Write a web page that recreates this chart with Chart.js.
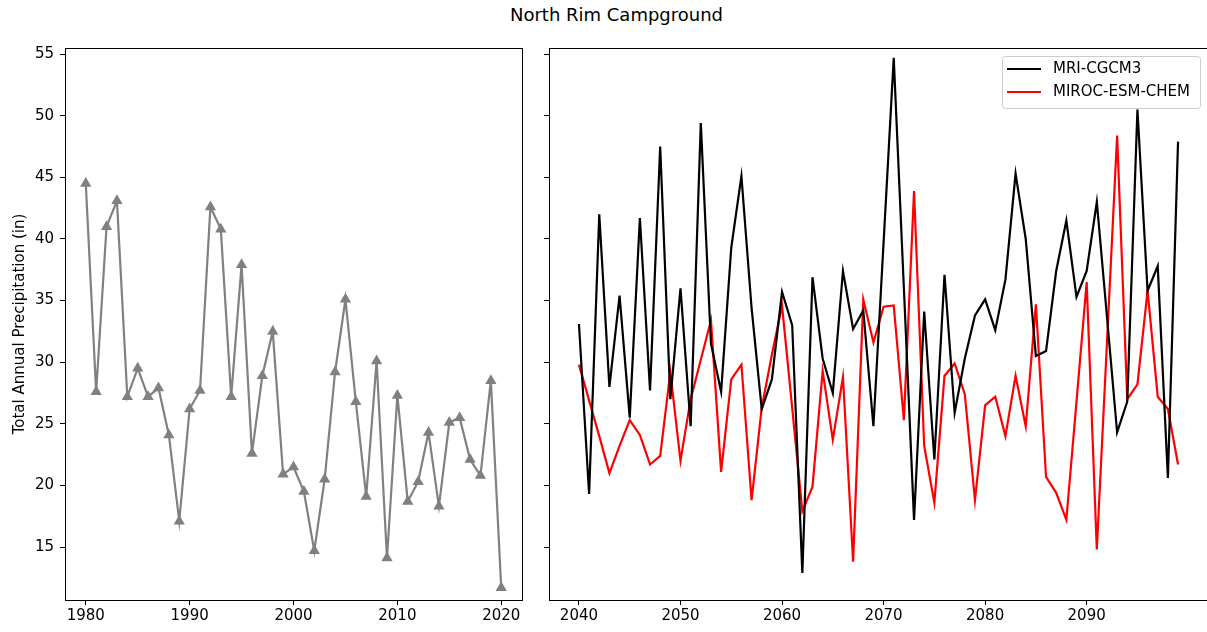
<!DOCTYPE html>
<html>
<head>
<meta charset="utf-8">
<script src="https://cdn.jsdelivr.net/npm/chart.js@4"></script>
<style>
  body { margin: 0; overflow: hidden; background: #fff; }
  #wrap { position: relative; width: 1207px; height: 632px; overflow: hidden; }
  #title { position: absolute; top: 4px; left: 13px; width: 1207px; text-align: center;
           font: 18px "DejaVu Sans", sans-serif; color: #000; }
  canvas { position: absolute; top: 0; }
</style>
</head>
<body>
<div id="wrap">
  <div id="title">North Rim Campground</div>
  <canvas id="left" width="540" height="632" style="left:0"></canvas>
  <canvas id="right" width="680" height="632" style="left:535px"></canvas>
</div>
<script>
// observed, 1980-2020
const pastYears = [1980,1981,1982,1983,1984,1985,1986,1987,1988,1989,1990,1991,1992,1993,1994,1995,1996,1997,1998,1999,
  2000,2001,2002,2003,2004,2005,2006,2007,2008,2009,2010,2011,2012,2013,2014,2015,2016,2017,2018,2019,2020];
const pastPrecip = [44.5,27.6,41.0,43.1,27.2,29.5,27.2,27.9,24.1,17.1,26.2,27.7,42.6,40.8,27.2,37.9,22.6,28.9,32.5,20.9,
  21.5,19.5,14.7,20.5,29.2,35.1,26.8,19.1,30.1,14.1,27.3,18.7,20.3,24.3,18.3,25.1,25.5,22.1,20.8,28.5,11.7];

// projections, 2040-2099
const futureYears = [2040,2041,2042,2043,2044,2045,2046,2047,2048,2049,2050,2051,2052,2053,2054,2055,2056,2057,2058,2059,
  2060,2061,2062,2063,2064,2065,2066,2067,2068,2069,2070,2071,2072,2073,2074,2075,2076,2077,2078,2079,
  2080,2081,2082,2083,2084,2085,2086,2087,2088,2089,2090,2091,2092,2093,2094,2095,2096,2097,2098,2099];
const mriPrecip = [33.1,19.3,42.0,28.0,35.4,25.5,41.7,27.7,47.5,27.0,36.0,24.8,49.4,31.5,27.6,39.3,45.1,34.4,26.2,28.6,
  35.7,33.0,12.9,36.9,30.3,27.5,37.4,32.7,34.2,24.8,39.7,54.7,36.0,17.2,34.1,22.1,37.1,25.9,30.3,33.8,
  35.1,32.6,36.7,45.3,40.0,30.5,30.9,37.4,41.5,35.3,37.4,43.0,33.7,24.3,26.8,50.5,35.8,37.8,20.6,47.9];
const mirocPrecip = [29.8,26.9,24.0,21.0,23.2,25.3,24.1,21.7,22.4,29.2,22.0,27.0,30.2,33.4,21.1,28.6,29.8,18.8,26.3,30.6,
  34.6,26.3,17.9,19.9,29.3,23.7,28.8,13.8,35.1,31.6,34.5,34.6,25.3,43.9,23.2,18.6,28.9,29.9,27.4,18.8,
  26.5,27.2,24.0,28.9,24.8,34.7,20.7,19.4,17.2,26.8,36.5,14.8,31.6,48.4,27.0,28.2,35.8,27.2,26.2,21.7];

const pastTicks = [1980, 1990, 2000, 2010, 2020];
const futureTicks = [2040, 2050, 2060, 2070, 2080, 2090];
const yTicks = [15, 20, 25, 30, 35, 40, 45, 50, 55];

const font = { family: 'DejaVu Sans', size: 15 };

// matplotlib-style box around the axes
const frame = {
  id: 'frame',
  afterDatasetsDraw(chart) {
    const a = chart.chartArea, ctx = chart.ctx;
    ctx.save();
    ctx.strokeStyle = '#000';
    ctx.lineWidth = 1;
    ctx.strokeRect(Math.round(a.left) + 0.5, Math.round(a.top) + 0.5,
      Math.round(a.right - a.left), Math.round(a.bottom - a.top));
    ctx.restore();
  }
};

// legend drawn inside the axes, upper right
const boxLegend = {
  id: 'boxLegend',
  afterDraw(chart) {
    const ctx = chart.ctx, a = chart.chartArea;
    const sets = chart.data.datasets;
    ctx.save();
    ctx.font = '15px "DejaVu Sans"';
    const tw = Math.max(...sets.map(d => ctx.measureText(d.label).width));
    const w = Math.round(51 + tw + 10), h = 52;
    const x = Math.round(a.right - 8 - w), y = Math.round(a.top + 8);
    ctx.beginPath();
    ctx.roundRect(x + 0.5, y + 0.5, w, h, 3);
    ctx.fillStyle = 'rgba(255,255,255,0.8)';
    ctx.fill();
    ctx.strokeStyle = '#cccccc';
    ctx.lineWidth = 1;
    ctx.stroke();
    sets.forEach((d, i) => {
      const cy = y + 13 + i * 23;
      ctx.beginPath();
      ctx.moveTo(x + 5, cy);
      ctx.lineTo(x + 39, cy);
      ctx.strokeStyle = d.borderColor;
      ctx.lineWidth = 2;
      ctx.stroke();
      ctx.fillStyle = '#000';
      ctx.textBaseline = 'middle';
      ctx.fillText(d.label, x + 51, cy);
    });
    ctx.restore();
  }
};

function scales(xTicks, xMin, xMax, yWidth, showYLabels) {
  return {
    x: {
      type: 'linear', min: xMin, max: xMax,
      afterBuildTicks: s => { s.ticks = xTicks.map(v => ({ value: v })); },
      afterFit: s => { s.height = 32; },
      grid: { drawOnChartArea: false, drawTicks: true, tickLength: 5, color: '#000' },
      border: { display: false },
      ticks: { font, color: '#000', padding: 2, maxRotation: 0, callback: v => String(v) }
    },
    y: {
      min: 10.7, max: 55.5,
      afterBuildTicks: s => { s.ticks = yTicks.map(v => ({ value: v })); },
      afterFit: s => { s.width = yWidth; },
      grid: { drawOnChartArea: false, drawTicks: true, tickLength: 5, color: '#000' },
      border: { display: false },
      ticks: { display: showYLabels, font, color: '#000', padding: 6 },
      title: {
        display: showYLabels, text: 'Total Annual Precipitation (in)',
        font, color: '#000', padding: { top: 11, bottom: 0 }
      }
    }
  };
}

new Chart(document.getElementById('left'), {
  type: 'line',
  data: {
    labels: pastYears,
    datasets: [{
      label: 'Observed',
      data: pastPrecip,
      borderColor: '#808080',
      backgroundColor: '#808080',
      borderWidth: 2.2,
      pointStyle: 'triangle',
      pointRadius: 6.5,
      pointBorderWidth: 0,
      pointBackgroundColor: '#808080',
      tension: 0
    }]
  },
  options: {
    responsive: false,
    animation: false,
    layout: { padding: { top: 48, right: 18, bottom: 0, left: 0 } },
    plugins: { legend: { display: false }, tooltip: { enabled: false } },
    scales: scales(pastTicks, 1978, 2022, 65, true)
  },
  plugins: [frame]
});

new Chart(document.getElementById('right'), {
  type: 'line',
  data: {
    labels: futureYears,
    datasets: [{
      label: 'MRI-CGCM3',
      data: mriPrecip,
      borderColor: '#000000',
      borderWidth: 2.2,
      pointRadius: 0,
      tension: 0
    }, {
      label: 'MIROC-ESM-CHEM',
      data: mirocPrecip,
      borderColor: '#ff0000',
      borderWidth: 2.2,
      pointRadius: 0,
      tension: 0
    }]
  },
  options: {
    responsive: false,
    animation: false,
    layout: { padding: { top: 48, right: 7, bottom: 0, left: 0 } },
    plugins: { legend: { display: false }, tooltip: { enabled: false } },
    scales: scales(futureTicks, 2037.05, 2101.95, 14, false)
  },
  plugins: [frame, boxLegend]
});
</script>
</body>
</html>
